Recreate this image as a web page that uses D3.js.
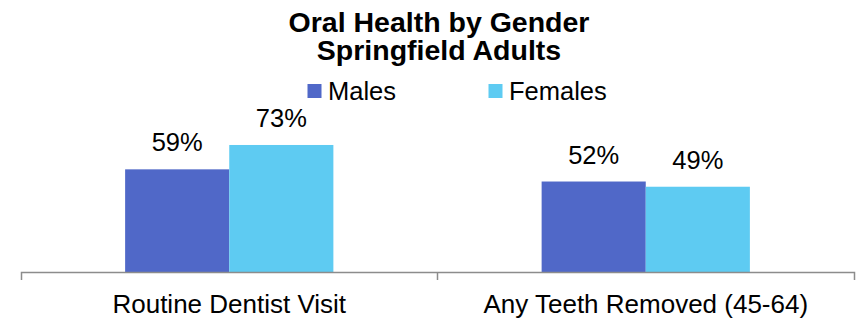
<!DOCTYPE html>
<html>
<head>
<meta charset="utf-8">
<script src="https://cdn.jsdelivr.net/npm/d3@7"></script>
<style>
  html, body { margin: 0; padding: 0; background: #ffffff; }
  svg { display: block; font-family: "Liberation Sans", Arial, sans-serif; }
</style>
</head>
<body>
<svg id="chart" width="862" height="321"></svg>
<script>
// Oral health indicators, Springfield adults, split by gender (percent)
const categories = ["Routine Dentist Visit", "Any Teeth Removed (45-64)"];
const seriesNames = ["Males", "Females"];
const malesValues = [59, 52];
const femalesValues = [73, 49];
const titleLines = ["Oral Health by Gender", "Springfield Adults"];

const colors = { Males: "#5068c8", Females: "#5ecbf2" };

const svg = d3.select("#chart");

const plot = { left: 21, right: 854, top: 98, bottom: 272 };

const x = d3.scaleBand()
  .domain(categories)
  .range([plot.left, plot.right])
  .paddingInner(0)
  .paddingOuter(0);

const xSeries = d3.scaleBand()
  .domain(seriesNames)
  .range([0, x.bandwidth()])
  .paddingInner(0)
  .paddingOuter(1);

const y = d3.scaleLinear()
  .domain([0, 100])
  .range([plot.bottom, plot.top]);

const rows = categories.map((c, i) => ({
  category: c,
  values: [
    { series: "Males", value: malesValues[i] },
    { series: "Females", value: femalesValues[i] }
  ]
}));

// Bars
const groups = svg.append("g").selectAll("g")
  .data(rows)
  .join("g")
  .attr("transform", d => `translate(${x(d.category)},0)`);

groups.selectAll("rect")
  .data(d => d.values)
  .join("rect")
  .attr("x", d => xSeries(d.series))
  .attr("y", d => y(d.value))
  .attr("width", xSeries.bandwidth())
  .attr("height", d => y(0) - y(d.value))
  .attr("fill", d => colors[d.series]);

// Value labels
groups.selectAll("text")
  .data(d => d.values)
  .join("text")
  .attr("x", d => xSeries(d.series) + xSeries.bandwidth() / 2)
  .attr("y", d => y(d.value) - 18)
  .attr("text-anchor", "middle")
  .attr("font-size", 25.5)
  .attr("fill", "#000")
  .text(d => d.value + "%");

// Category axis
const axis = svg.append("g")
  .attr("transform", `translate(0,${plot.bottom})`)
  .call(d3.axisBottom(x).tickSize(0).tickSizeOuter(8));

axis.select(".domain")
  .attr("stroke", "#8c8c8c")
  .attr("stroke-width", 1.5);

axis.selectAll(".tick text")
  .attr("y", 41)
  .attr("dy", 0)
  .attr("font-size", 26)
  .attr("font-family", "\"Liberation Sans\", Arial, sans-serif")
  .attr("fill", "#000");

// Divider ticks between categories
axis.append("g")
  .selectAll("line")
  .data(categories.slice(1))
  .join("line")
  .attr("x1", d => x(d))
  .attr("x2", d => x(d))
  .attr("y1", 0)
  .attr("y2", 8)
  .attr("stroke", "#8c8c8c")
  .attr("stroke-width", 1.5);

// Title
svg.append("g")
  .selectAll("text")
  .data(titleLines)
  .join("text")
  .attr("x", 439)
  .attr("y", (d, i) => 32 + i * 28)
  .attr("text-anchor", "middle")
  .attr("font-size", 28.5)
  .attr("font-weight", "bold")
  .attr("fill", "#000")
  .text(d => d);

// Legend
const legendX = [307.5, 488.5];
const legend = svg.append("g")
  .selectAll("g")
  .data(seriesNames)
  .join("g")
  .attr("transform", (d, i) => `translate(${legendX[i]},0)`);

legend.append("rect")
  .attr("x", 0)
  .attr("y", 84)
  .attr("width", 14)
  .attr("height", 14)
  .attr("fill", d => colors[d]);

legend.append("text")
  .attr("x", 20.5)
  .attr("y", 100)
  .attr("font-size", 25.5)
  .attr("fill", "#000")
  .text(d => d);
</script>
</body>
</html>
